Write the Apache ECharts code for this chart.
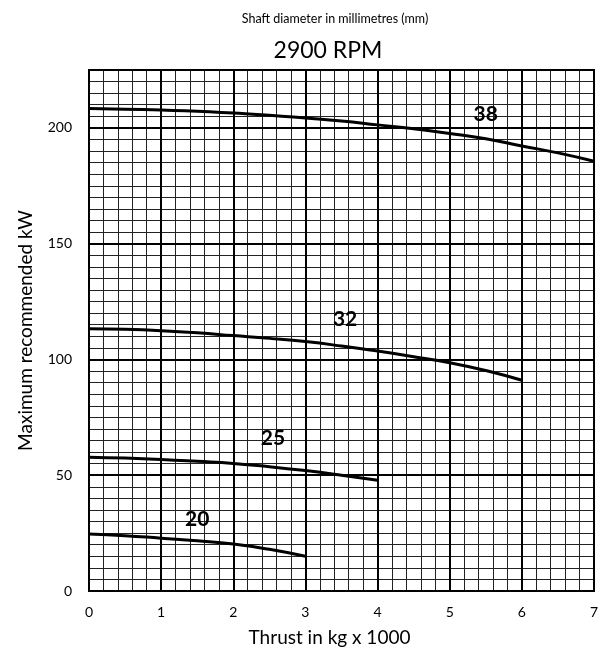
<!DOCTYPE html>
<html><head><meta charset="utf-8">
<script src="https://cdn.jsdelivr.net/npm/echarts@6/dist/echarts.min.js"></script>
<style>html,body{margin:0;padding:0;background:#fff}#c{width:609px;height:652px}</style>
</head><body><div id="c"></div>
<script>
const thrust = [0, 0.5, 1, 1.5, 2, 2.5, 3, 3.5, 4, 4.5, 5, 5.5, 6, 6.5, 7];
const kw38 = [208.4, 208.1, 207.7, 207.2, 206.4, 205.5, 204.3, 203.0, 201.3, 199.6, 197.6, 195.3, 192.2, 189.2, 185.6];
const kw32 = [113.3, 113.0, 112.4, 111.5, 110.3, 109.1, 107.7, 105.8, 103.6, 101.2, 98.6, 95.2, 91.0];
const kw25 = [57.8, 57.4, 56.8, 56.0, 55.1, 53.7, 52.0, 50.0, 47.8];
const kw20 = [24.6, 23.9, 22.8, 21.7, 20.3, 18.0, 15.0];
const diameters = ['38', '32', '25', '20'];
const labelX = [5.5, 3.55, 2.55, 1.5];
const labelY = [206, 117.5, 66, 31];
const yTicks = [0, 50, 100, 150, 200];

const font = 'Lato, "Open Sans", sans-serif';
function pairs(vals) { return vals.map((v, i) => [thrust[i], v]); }
const lineStyle = { color: '#000', width: 3 };
const chart = echarts.init(document.getElementById('c'));
chart.setOption({
  animation: false,
  backgroundColor: '#fff',
  title: [
    { text: 'Shaft diameter in millimetres (mm)', left: 330, top: 7, textAlign: 'center',
      textStyle: { fontFamily: font, fontSize: 12.5, fontWeight: 'normal', color: '#000' } },
    { text: '2900 RPM', left: 323, top: 34, textAlign: 'center',
      textStyle: { fontFamily: font, fontSize: 23, fontWeight: 'normal', color: '#000' } }
  ],
  grid: { left: 89, right: 15, top: 70, bottom: 59, show: true, borderColor: '#000', borderWidth: 2 },
  xAxis: {
    type: 'value', min: 0, max: 7, interval: 1,
    name: 'Thrust in kg x 1000', nameLocation: 'middle', nameGap: 37,
    nameTextStyle: { fontFamily: font, fontSize: 19, color: '#000', padding: [0, 24, 0, 0] },
    axisLine: { show: false }, axisTick: { show: false },
    axisLabel: { fontFamily: font, fontSize: 14, color: '#000', margin: 14 },
    splitLine: { show: true, lineStyle: { color: '#000', width: 2 } },
    minorTick: { show: false, splitNumber: 5 },
    minorSplitLine: { show: true, lineStyle: { color: '#222', width: 1 } }
  },
  yAxis: [
    { type: 'value', min: 0, max: 225, interval: 50,
      name: 'Maximum recommended kW', nameLocation: 'middle', nameGap: 54, nameRotate: 90,
      nameTextStyle: { fontFamily: font, fontSize: 19, color: '#000' },
      axisLine: { show: false }, axisTick: { show: false },
      axisLabel: { fontFamily: font, fontSize: 14, color: '#000', margin: 17, showMaxLabel: false,
        formatter: v => yTicks.indexOf(v) >= 0 ? String(v) : '' },
      splitLine: { show: true, lineStyle: { color: '#000', width: 2 } }, z: 2 },
    { type: 'value', min: 0, max: 225, interval: 5, position: 'left',
      axisLine: { show: false }, axisTick: { show: false }, axisLabel: { show: false },
      splitLine: { show: true, lineStyle: { color: '#222', width: 1 } } }
  ],
  series: [
    { type: 'line', data: pairs(kw38), smooth: true, symbol: 'none', lineStyle, z: 5 },
    { type: 'line', data: pairs(kw32), smooth: true, symbol: 'none', lineStyle, z: 5 },
    { type: 'line', data: pairs(kw25), smooth: true, symbol: 'none', lineStyle, z: 5 },
    { type: 'line', data: pairs(kw20), smooth: true, symbol: 'none', lineStyle, z: 5 },
    { type: 'scatter', symbolSize: 0, z: 6, itemStyle: { color: '#000', opacity: 1 },
      data: diameters.map((d, i) => ({ value: [labelX[i], labelY[i]], name: d })),
      label: { show: true, position: 'inside', formatter: p => p.name, opacity: 1,
        fontFamily: font, fontSize: 21, fontWeight: 'bold', color: '#000',
        textBorderWidth: 0 } }
  ]
});
</script></body></html>
